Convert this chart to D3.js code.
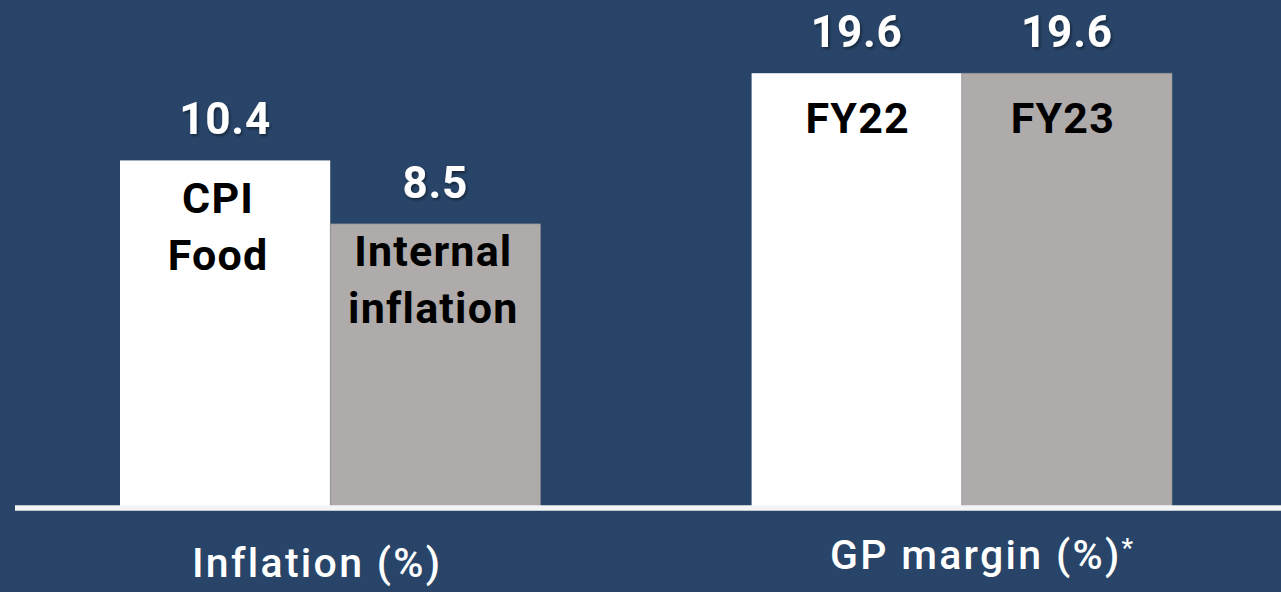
<!DOCTYPE html>
<html>
<head>
<meta charset="utf-8">
<script src="https://cdn.jsdelivr.net/npm/d3@7"></script>
<style>
  html, body { margin: 0; padding: 0; background: #284569; }
  svg { display: block; }
  text { font-family: Roboto, "Liberation Sans", sans-serif; }
</style>
</head>
<body>
<svg id="chart" width="1281" height="592"></svg>
<script>
// Panel titles
const groups = ["Inflation (%)", "GP margin (%)"];

// Inflation panel
const inflationLabels = [["CPI", "Food"], ["Internal", "inflation"]];
const inflationValues = [10.4, 8.5];

// GP margin panel
const marginLabels = [["FY22"], ["FY23"]];
const marginValues = [19.6, 19.6];

const W = 1281, H = 592;
const baseY = 508;
const barColors = ["#ffffff", "#afabaa"];

const svg = d3.select("#chart");
svg.append("rect").attr("width", W).attr("height", H).attr("fill", "#284569");

const defs = svg.append("defs");
const f = defs.append("filter").attr("id", "shadow")
  .attr("x", "-20%").attr("y", "-20%").attr("width", "140%").attr("height", "140%");
f.append("feDropShadow").attr("dx", 1.5).attr("dy", 2).attr("stdDeviation", 1.5)
  .attr("flood-color", "#000").attr("flood-opacity", 0.45);

// Group positions
const x0 = d3.scaleBand().domain(groups).range([120, 1172])
  .paddingInner(211 / 631).paddingOuter(0);
const x1 = d3.scaleBand().domain([0, 1]).range([0, x0.bandwidth()]).padding(0);

// Each panel has its own value scale
const yScales = [
  d3.scaleLinear().domain([0, 15.2]).range([baseY, 0]),
  d3.scaleLinear().domain([0, 22.9]).range([baseY, 0])
];

const panels = [
  { name: groups[0], labels: inflationLabels, values: inflationValues,
    labelDy: [53, 42], labelDx: [-7, -2], titleDx: -13, titleY: 577 },
  { name: groups[1], labels: marginLabels, values: marginValues,
    labelDy: [60, 60], labelDx: [1, -4], titleDx: 14, titleY: 569 }
];

panels.forEach((p, pi) => {
  const y = yScales[pi];
  const g = svg.append("g").attr("transform", `translate(${x0(p.name)},0)`);

  const rows = p.values.map((v, i) => ({ v, i, lines: p.labels[i] }));

  g.selectAll("rect.bar").data(rows).enter().append("rect")
    .attr("class", "bar")
    .attr("x", d => x1(d.i))
    .attr("y", d => y(d.v))
    .attr("width", x1.bandwidth())
    .attr("height", d => baseY - y(d.v))
    .attr("fill", d => barColors[d.i])
    .attr("stroke", d => d.i === 1 ? "#8f8c8f" : "none")
    .attr("stroke-width", 0.6);

  // value labels above bars
  g.selectAll("text.val").data(rows).enter().append("text")
    .attr("class", "val")
    .attr("x", d => x1(d.i) + x1.bandwidth() / 2)
    .attr("y", d => y(d.v) - 26)
    .attr("text-anchor", "middle")
    .attr("font-size", 44)
    .attr("font-weight", 700)
    .attr("letter-spacing", 0.8)
    .attr("fill", "#ffffff")
    .attr("filter", "url(#shadow)")
    .text(d => d3.format(".1f")(d.v));

  // category labels inside bars
  rows.forEach(d => {
    const cx = x1(d.i) + x1.bandwidth() / 2 + p.labelDx[d.i];
    const t = g.append("text")
      .attr("x", cx)
      .attr("y", y(d.v) + p.labelDy[d.i])
      .attr("text-anchor", "middle")
      .attr("font-size", 43)
      .attr("font-weight", 700)
      .attr("letter-spacing", 1.2)
      .attr("fill", "#000000");
    d.lines.forEach((ln, li) => {
      t.append("tspan")
        .attr("x", cx)
        .attr("dy", li === 0 ? 0 : 57)
        .text(ln);
    });
  });

  // panel title below the axis
  const title = svg.append("text")
    .attr("x", x0(p.name) + x0.bandwidth() / 2 + p.titleDx)
    .attr("y", p.titleY)
    .attr("text-anchor", "middle")
    .attr("font-size", 41)
    .attr("font-weight", 500)
    .attr("letter-spacing", 2.3)
    .attr("fill", "#ffffff")
    .text(p.name);
  if (pi === 1) {
    title.attr("text-anchor", "start");
    const w = title.node().getComputedTextLength();
    title.attr("x", x0(p.name) + x0.bandwidth() / 2 + p.titleDx - w / 2);
    title.append("tspan").attr("font-size", 26).attr("dy", -12)
      .attr("letter-spacing", 0).text("*");
  }
});

// baseline
svg.append("line")
  .attr("x1", 15).attr("x2", W)
  .attr("y1", baseY).attr("y2", baseY)
  .attr("stroke", "#f4f4f4")
  .attr("stroke-width", 5.5);
</script>
</body>
</html>
